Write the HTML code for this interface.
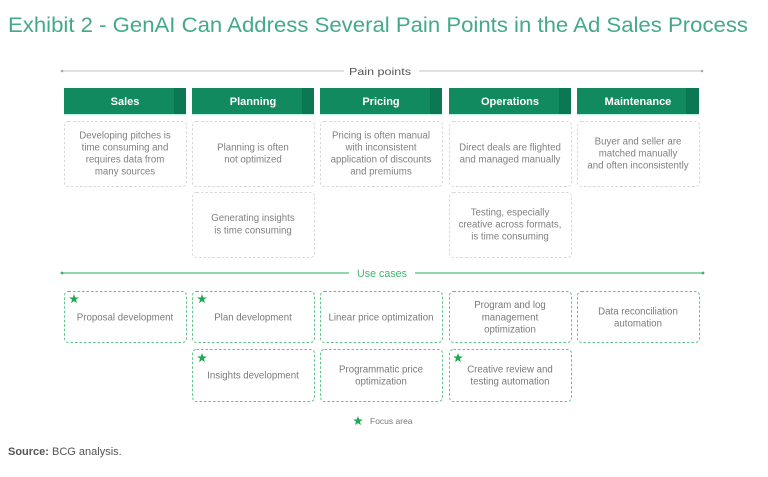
<!DOCTYPE html>
<html><head><meta charset="utf-8"><style>
html,body{margin:0;padding:0;background:#fff;}
svg{display:block;font-family:"Liberation Sans",sans-serif;}
</style></head><body>
<svg width="768" height="477" viewBox="0 0 768 477" xmlns="http://www.w3.org/2000/svg">
<rect width="768" height="477" fill="#fff"/>
<text x="8" y="32" font-size="21" fill="#43a98a" textLength="740" lengthAdjust="spacingAndGlyphs">Exhibit 2 - GenAI Can Address Several Pain Points in the Ad Sales Process</text>

<!-- Pain points line -->
<line x1="62" y1="71" x2="344" y2="71" stroke="#c4c4c4" stroke-width="1"/>
<line x1="419" y1="71" x2="702" y2="71" stroke="#c4c4c4" stroke-width="1"/>
<circle cx="62" cy="71" r="1.3" fill="#aaa"/><circle cx="702" cy="71" r="1.3" fill="#aaa"/>
<text x="380" y="75" font-size="10.5" fill="#555" text-anchor="middle" textLength="62" lengthAdjust="spacingAndGlyphs">Pain points</text>

<!-- Headers -->
<g font-size="11" font-weight="bold" fill="#fff" text-anchor="middle">
<rect x="64" y="88" width="122" height="26" fill="#128a60"/><rect x="174" y="88" width="12" height="26" fill="#0c7853"/><rect x="64" y="114" width="122" height="1.2" fill="#bff0e6"/>
<text x="125" y="105">Sales</text>
<rect x="192" y="88" width="122" height="26" fill="#128a60"/><rect x="302" y="88" width="12" height="26" fill="#0c7853"/><rect x="192" y="114" width="122" height="1.2" fill="#bff0e6"/>
<text x="253" y="105">Planning</text>
<rect x="320" y="88" width="122" height="26" fill="#128a60"/><rect x="430" y="88" width="12" height="26" fill="#0c7853"/><rect x="320" y="114" width="122" height="1.2" fill="#bff0e6"/>
<text x="381" y="105">Pricing</text>
<rect x="449" y="88" width="122" height="26" fill="#128a60"/><rect x="559" y="88" width="12" height="26" fill="#0c7853"/><rect x="449" y="114" width="122" height="1.2" fill="#bff0e6"/>
<text x="510" y="105">Operations</text>
<rect x="577" y="88" width="122" height="26" fill="#128a60"/><rect x="686" y="88" width="13" height="26" fill="#0c7853"/><rect x="577" y="114" width="122" height="1.2" fill="#bff0e6"/>
<text x="638" y="105">Maintenance</text>
</g>

<!-- Pain boxes -->
<g fill="none" stroke="#d9d9d9" stroke-width="1" stroke-dasharray="2.5 2">
<rect x="64.5" y="121.5" width="122" height="65" rx="4"/>
<rect x="192.5" y="121.5" width="122" height="65" rx="4"/>
<rect x="320.5" y="121.5" width="122" height="65" rx="4"/>
<rect x="449.5" y="121.5" width="122" height="65" rx="4"/>
<rect x="577.5" y="121.5" width="122" height="65" rx="4"/>
<rect x="192.5" y="192.5" width="122" height="65" rx="4"/>
<rect x="449.5" y="192.5" width="122" height="65" rx="4"/>
</g>
<g font-size="9.7" fill="#808080" text-anchor="middle">
<text x="125" y="138.5">Developing pitches is</text>
<text x="125" y="150.5">time consuming and</text>
<text x="125" y="162.5">requires data from</text>
<text x="125" y="174.5">many sources</text>
<text x="253" y="150.5">Planning is often</text>
<text x="253" y="162.5">not optimized</text>
<text x="381" y="138.5">Pricing is often manual</text>
<text x="381" y="150.5">with inconsistent</text>
<text x="381" y="162.5">application of discounts</text>
<text x="381" y="174.5">and premiums</text>
<text x="510" y="150.5">Direct deals are flighted</text>
<text x="510" y="162.5">and managed manually</text>
<text x="638" y="144.5">Buyer and seller are</text>
<text x="638" y="156.5">matched manually</text>
<text x="638" y="168.5">and often inconsistently</text>
<text x="253" y="221">Generating insights</text>
<text x="253" y="233.5">is time consuming</text>
<text x="510" y="215.5">Testing, especially</text>
<text x="510" y="227.5">creative across formats,</text>
<text x="510" y="239.5">is time consuming</text>
</g>

<!-- Use cases line -->
<line x1="62" y1="273" x2="349" y2="273" stroke="#4fbf7c" stroke-width="1.2"/>
<line x1="415" y1="273" x2="703" y2="273" stroke="#4fbf7c" stroke-width="1.2"/>
<circle cx="62" cy="273" r="1.4" fill="#3fb06e"/><circle cx="703" cy="273" r="1.4" fill="#3fb06e"/>
<text x="382" y="277" font-size="11" fill="#3fb46e" text-anchor="middle" textLength="50" lengthAdjust="spacingAndGlyphs">Use cases</text>

<!-- Use case boxes -->
<g fill="none" stroke="#5cc487" stroke-width="1" stroke-dasharray="2.5 2">
<rect x="64.5" y="291.5" width="122" height="51" rx="4"/>
<rect x="192.5" y="291.5" width="122" height="51" rx="4"/>
<rect x="320.5" y="291.5" width="122" height="51" rx="4"/>
<rect x="449.5" y="291.5" width="122" height="51" rx="4"/>
<rect x="577.5" y="291.5" width="122" height="51" rx="4"/>
<rect x="192.5" y="349.5" width="122" height="52" rx="4"/>
<rect x="320.5" y="349.5" width="122" height="52" rx="4"/>
<rect x="449.5" y="349.5" width="122" height="52" rx="4"/>
</g>
<g font-size="9.7" fill="#7a7a7a" text-anchor="middle">
<text x="125" y="320.5">Proposal development</text>
<text x="253" y="320.5">Plan development</text>
<text x="381" y="320.5">Linear price optimization</text>
<text x="510" y="308">Program and log</text>
<text x="510" y="320.5">management</text>
<text x="510" y="332.5">optimization</text>
<text x="638" y="314.5">Data reconciliation</text>
<text x="638" y="326.5">automation</text>
<text x="253" y="378.5">Insights development</text>
<text x="381" y="372.5">Programmatic price</text>
<text x="381" y="384.5">optimization</text>
<text x="510" y="372.5">Creative review and</text>
<text x="510" y="384.5">testing automation</text>
</g>

<!-- Stars -->
<g fill="#1fa855">
<path transform="translate(74,299) scale(1.1)" d="M0,-4.6 L1.1,-1.5 L4.4,-1.4 L1.8,0.6 L2.7,3.8 L0,1.9 L-2.7,3.8 L-1.8,0.6 L-4.4,-1.4 L-1.1,-1.5 Z"/>
<path transform="translate(202,299) scale(1.1)" d="M0,-4.6 L1.1,-1.5 L4.4,-1.4 L1.8,0.6 L2.7,3.8 L0,1.9 L-2.7,3.8 L-1.8,0.6 L-4.4,-1.4 L-1.1,-1.5 Z"/>
<path transform="translate(202,358) scale(1.1)" d="M0,-4.6 L1.1,-1.5 L4.4,-1.4 L1.8,0.6 L2.7,3.8 L0,1.9 L-2.7,3.8 L-1.8,0.6 L-4.4,-1.4 L-1.1,-1.5 Z"/>
<path transform="translate(458,358) scale(1.1)" d="M0,-4.6 L1.1,-1.5 L4.4,-1.4 L1.8,0.6 L2.7,3.8 L0,1.9 L-2.7,3.8 L-1.8,0.6 L-4.4,-1.4 L-1.1,-1.5 Z"/>
<path transform="translate(358,421) scale(1.1)" d="M0,-4.6 L1.1,-1.5 L4.4,-1.4 L1.8,0.6 L2.7,3.8 L0,1.9 L-2.7,3.8 L-1.8,0.6 L-4.4,-1.4 L-1.1,-1.5 Z"/>
</g>
<text x="370" y="424" font-size="8.5" fill="#777">Focus area</text>

<!-- Source -->
<text x="8" y="455" font-size="11" fill="#555"><tspan font-weight="bold">Source:</tspan> BCG analysis.</text>
</svg>
</body></html>
